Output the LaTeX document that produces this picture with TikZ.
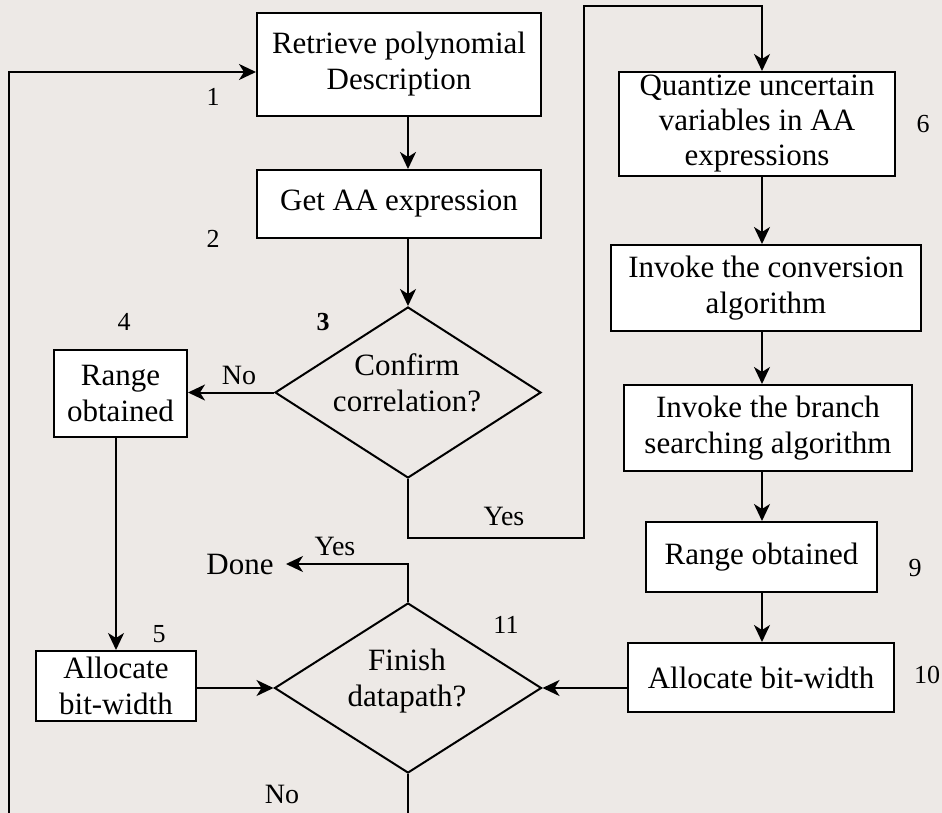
\documentclass[tikz,border=0pt]{standalone}
\usepackage{fontspec}
\setmainfont{Liberation Serif}
\usetikzlibrary{arrows.meta,shapes.geometric}
\definecolor{bg}{RGB}{237,233,230}
\begin{document}
\begin{tikzpicture}[x=0.5pt,y=-0.5pt,
  box/.style={draw,fill=white,line width=1pt,inner sep=0pt,align=center,
    font=\fontsize{15.5}{18}\selectfont},
  dia/.style={draw,shape=diamond,inner sep=0pt,line width=1pt},
  dtext/.style={inner sep=0pt,align=center,font=\fontsize{15.5}{18}\selectfont},
  num/.style={inner sep=0pt,font=\fontsize{13}{15}\selectfont},
  yn/.style={inner sep=0pt,font=\fontsize{14}{16}\selectfont},
  line/.style={line width=1pt},
  arr/.style={line width=1pt,-{Stealth[length=8.5pt,width=8pt,inset=2.5pt]}}]
\fill[bg] (0,0) rectangle (942,813);
\useasboundingbox (0,0) rectangle (942,813);

% helper coordinates for vertical connector lines
\coordinate (xm) at (408,0);
\coordinate (xr) at (762,0);

% left column
\node[box,minimum width=142pt,minimum height=51.5pt] (b1) at (399,64.5) {Retrieve polynomial\\Description};
\node[box,minimum width=142pt,minimum height=34pt] (b2) at (399,204) {Get AA expression};
\node[dia,minimum width=133pt,minimum height=85.5pt] (d3) at (408,392.5) {};
\node[dtext] (t3) at (407,383) {Confirm\\correlation?};
\node[box,minimum width=66.5pt,minimum height=43.5pt] (b4) at (120.5,393.5) {Range\\obtained};
\node[box,minimum width=80pt,minimum height=35pt] (b5) at (116,686) {Allocate\\bit-width};
\node[dia,minimum width=133.5pt,minimum height=85pt] (d11) at (408,688) {};
\node[dtext] (t11) at (407,681) {Finish\\datapath?};
\node[dtext,inner xsep=6pt] (done) at (240,564) {Done};

% right column
\node[box,minimum width=138pt,minimum height=52pt,font=\fontsize{15.5}{17.5}\selectfont] (b6) at (757,124) {Quantize uncertain\\variables in AA\\expressions};
\node[box,minimum width=155pt,minimum height=43pt] (b7) at (766,288) {Invoke the conversion\\algorithm};
\node[box,minimum width=144pt,minimum height=43pt] (b8) at (768,428) {Invoke the branch\\searching algorithm};
\node[box,minimum width=115.5pt,minimum height=35pt] (b9) at (761.5,557) {Range obtained};
\node[box,minimum width=133pt,minimum height=34.5pt] (b10) at (761,677.5) {Allocate bit-width};

% step numbers
\node[num] (n1) at (213,97) {1};
\node[num] (n2) at (213,239) {2};
\node[num,font=\fontsize{13}{15}\selectfont\bfseries] (n3) at (323,322) {3};
\node[num] (n4) at (124,322) {4};
\node[num] (n5) at (159,634) {5};
\node[num] (n6) at (923,124) {6};
\node[num] (n9) at (915,568.5) {9};
\node[num] (n10) at (927,675) {10};
\node[num] (n11) at (506,625) {11};

% branch labels
\node[yn] (no3) at (239,375.5) {No};
\node[yn] (yes3) at (504,516.5) {Yes};
\node[yn] (yes11) at (335,546) {Yes};
\node[yn] (no11) at (282,794.5) {No};

% connectors
\draw[arr] (b1.south -| xm) -- (b2.north -| xm);
\draw[arr] (b2.south -| xm) -- (d3.north);
\draw[arr] (d3.west) -- (b4.east |- d3.west);
\draw[arr] (b4.south -| b5.north) -- (b5.north);
\draw[arr] (b5.east |- d11.west) -- (d11.west);
\draw[arr] (b10.west |- d11.east) -- (d11.east);
\draw[arr] (d11.north) |- (done.east);
\draw[arr] (d3.south) |- (584,538) |- (762,6) -- (b6.north -| xr);
\draw[arr] (b6.south -| xr) -- (b7.north -| xr);
\draw[arr] (b7.south -| xr) -- (b8.north -| xr);
\draw[arr] (b8.south -| xr) -- (b9.north -| xr);
\draw[arr] (b9.south -| xr) -- (b10.north -| xr);
\draw[arr] (d11.south) -- (408,830) -| (9,72) -- ([yshift=-3.75pt]b1.west);
\end{tikzpicture}
\end{document}
